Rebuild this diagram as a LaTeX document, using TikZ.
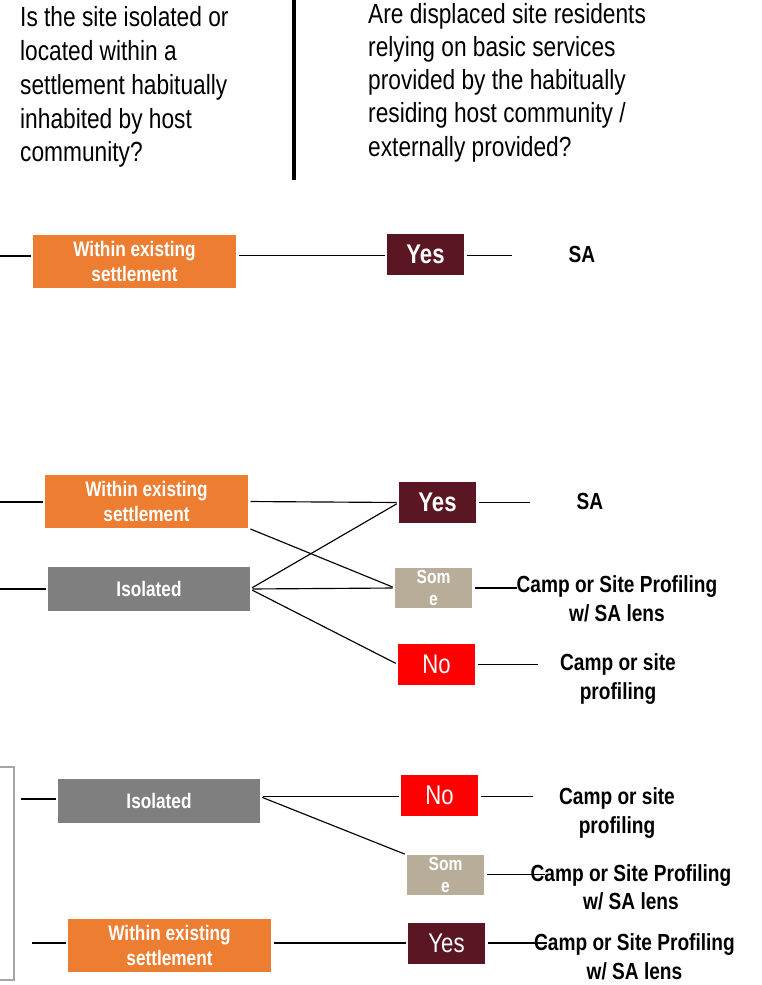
\documentclass[tikz,border=0pt]{standalone}
\usepackage{fontspec}
\setmainfont{Liberation Sans}
\newfontfamily\nar[FakeStretch=0.82]{Liberation Sans}
\definecolor{cOrange}{HTML}{ED7D31}
\definecolor{cGray}{HTML}{7F7F7F}
\definecolor{cMaroon}{HTML}{5A1622}
\definecolor{cRed}{HTML}{FF0000}
\definecolor{cTan}{HTML}{B8AD99}
\definecolor{cBracket}{HTML}{A6A6A6}
\begin{document}
\begin{tikzpicture}[x=1pt,y=-1pt,
  basebox/.style={anchor=north west, inner sep=0pt, outer sep=0pt, align=center, text=white},
  obox/.style={basebox, fill=cOrange, minimum width=203pt, minimum height=53pt,
    font=\nar\bfseries\fontsize{21}{24.5}\selectfont},
  gbox/.style={basebox, fill=cGray, minimum width=202pt, minimum height=44pt,
    font=\nar\bfseries\fontsize{21}{24.5}\selectfont},
  ybox/.style={basebox, fill=cMaroon, minimum width=77pt, minimum height=41pt,
    font=\nar\bfseries\fontsize{27}{30}\selectfont},
  yboxr/.style={basebox, fill=cMaroon, minimum width=77pt, minimum height=41pt,
    font=\nar\fontsize{27}{30}\selectfont},
  nbox/.style={basebox, fill=cRed, minimum width=77pt, minimum height=41pt,
    font=\nar\fontsize{27}{30}\selectfont},
  sbox/.style={basebox, fill=cTan, minimum width=77pt, minimum height=40pt,
    font=\nar\bfseries\fontsize{19}{22}\selectfont},
  res/.style={inner sep=0pt, align=center, font=\nar\bfseries\fontsize{23.3}{28.5}\selectfont},
  qtext/.style={inner sep=0pt, anchor=north west, align=left},
  ln/.style={draw=black, line width=1.15pt},
  ls/.style={ln, shorten <=2.5pt, shorten >=2.5pt}
]
\useasboundingbox (0,0) rectangle (762,985);

% header
\node[qtext, font=\nar\fontsize{27.7}{33.8}\selectfont] (q1) at (20,6.5) {Is the site isolated or\\located within a\\settlement habitually\\inhabited by host\\community?};
\node[qtext, font=\nar\fontsize{27.7}{33.2}\selectfont] (q2) at (368,3) {Are displaced site residents\\relying on basic services\\provided by the habitually\\residing host community /\\externally provided?};
\coordinate (v0) at (294,0);
\coordinate (v1) at (294,180);
\draw[line width=3.5pt] (v0) -- (v1);

% row A
\node[obox] (a1) at (33,235) {Within existing\\settlement};
\node[ybox] (a2) at (387,234) {Yes};
\node[res] (a4) at (582,254) {SA};
\coordinate (a0) at (0,256);
\coordinate (a3) at (512,255.5);
\draw[ls, shorten <=0pt] (a0) -- (a0 -| a1.west);
\draw[ls] (a1.east |- a3) -- (a3 -| a2.west);
\draw[ls, shorten >=0pt] (a3 -| a2.east) -- (a3);

% row B
\node[obox] (b1) at (45,475) {Within existing\\settlement};
\node[gbox] (b2) at (48,567) {Isolated};
\node[ybox] (b3) at (399,482) {Yes};
\node[sbox] (b4) at (395,568) {Som\\e};
\node[nbox] (b5) at (398,644) {No};
\coordinate (b0) at (0,502);
\coordinate (b0g) at (0,589);
\coordinate (b3r) at (530,502.5);
\coordinate (b4r) at (517,588);
\coordinate (b5r) at (538,664.5);
\draw[ls, shorten <=0pt] (b0) -- (b0 -| b1.west);
\draw[ls, shorten <=0pt] (b0g) -- (b0g -| b2.west);
\draw[ls] (b1.east) -- (b3.west);
\draw[ls] (b1.south east) -- (b4.west);
\draw[ls] (b2.east) -- (b3.west);
\draw[ls] (b2.east) -- (b4.west);
\draw[ls] (b2.east) -- (b5.west);
\draw[ls, shorten >=0pt] (b3.east) -- (b3r);
\draw[ls, shorten >=0pt] (b4.east) -- (b4r);
\draw[ls, shorten >=0pt] (b5.east) -- (b5r);
\node[res] (b6) at (590,501) {SA};
\node[res] (b7) at (617,599) {Camp or Site Profiling\\w/ SA lens};
\node[res] (b8) at (618,679) {Camp or site\\profiling};

% row C
\draw[cBracket, line width=2.5pt] (0,767) -- (14,767) -- (14,980) -- (0,980);
\node[gbox] (c1) at (58,779) {Isolated};
\node[nbox] (c2) at (401,775) {No};
\node[sbox] (c3) at (407,855) {Som\\e};
\node[obox] (c4) at (68,919) {Within existing\\settlement};
\node[yboxr] (c5) at (408,923) {Yes};
\coordinate (c0) at (21,799);
\coordinate (c0b) at (32,943);
\coordinate (c2r) at (533,796.5);
\coordinate (c3r) at (545,874.5);
\coordinate (c5r) at (547,943);
\draw[ls, shorten <=0pt] (c0) -- (c0 -| c1.west);
\draw[ls, shorten <=0pt] (c0b) -- (c0b -| c4.west);
\draw[ls] (c1.east |- c2r) -- (c2r -| c2.west);
\draw[ls] (c1.east |- c2r) -- (c3.north west);
\draw[ls] (c4.east |- c5r) -- (c5r -| c5.west);
\draw[ls, shorten >=0pt] (c2r -| c2.east) -- (c2r);
\draw[ls, shorten >=0pt] (c3r -| c3.east) -- (c3r);
\draw[ls, shorten >=0pt] (c5r -| c5.east) -- (c5r);
\node[res] (c6) at (617,813) {Camp or site\\profiling};
\node[res] (c7) at (631,887.5) {Camp or Site Profiling\\w/ SA lens};
\node[res] (c8) at (634.5,957) {Camp or Site Profiling\\w/ SA lens};
\end{tikzpicture}
\end{document}
